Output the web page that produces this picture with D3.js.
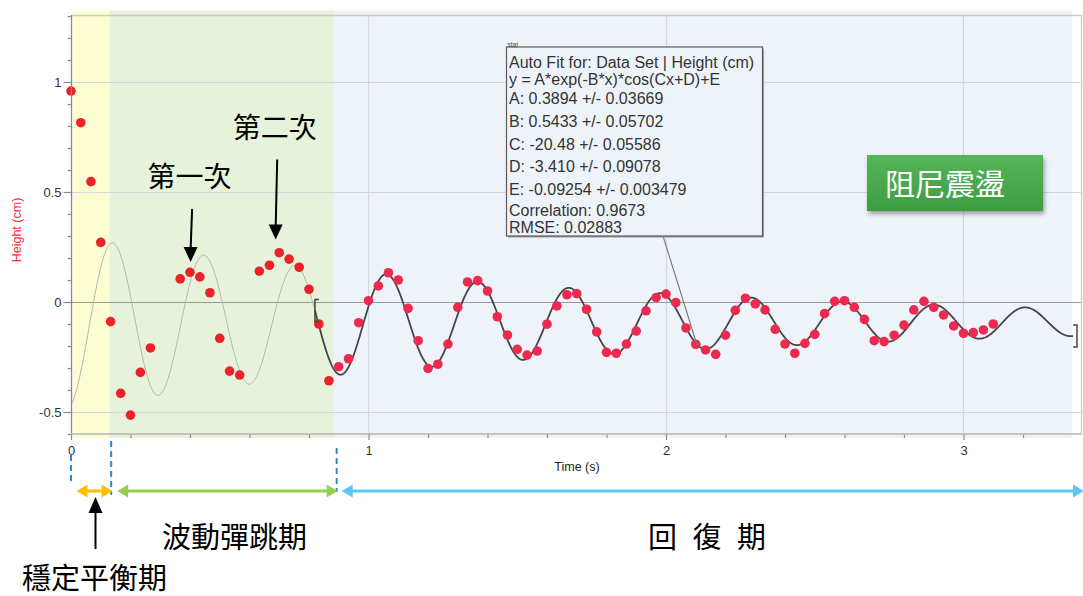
<!DOCTYPE html>
<html>
<head>
<meta charset="utf-8">
<script src="https://cdn.jsdelivr.net/npm/d3@7"></script>
<style>
  body { margin: 0; background: #fff; }
  svg { display: block; }
  .tick text { font-family: "Liberation Sans", Arial, sans-serif; }
</style>
</head>
<body>
<svg id="chart" width="1083" height="596"></svg>
<script>
// Video-tracked ball height over time (30 fps, a few frames lost early on)
const times = [
  0.000, 0.033, 0.067, 0.100, 0.133, 0.167, 0.200, 0.233, 0.267,
  0.367, 0.400, 0.433, 0.467, 0.500, 0.533, 0.567,
  0.633, 0.667, 0.700, 0.733, 0.767, 0.800, 0.833, 0.867, 0.900, 0.933, 0.967,
  1.000, 1.033, 1.067, 1.100, 1.133, 1.167, 1.200, 1.233, 1.267, 1.300, 1.333, 1.367,
  1.400, 1.433, 1.467, 1.500, 1.533, 1.567, 1.600, 1.633, 1.667, 1.700, 1.733, 1.767,
  1.800, 1.833, 1.867, 1.900, 1.933, 1.967, 2.000, 2.033, 2.067, 2.100, 2.133, 2.167,
  2.200, 2.233, 2.267, 2.300, 2.333, 2.367, 2.400, 2.433, 2.467, 2.500, 2.533, 2.567,
  2.600, 2.633, 2.667, 2.700, 2.733, 2.767, 2.800, 2.833, 2.867, 2.900, 2.933, 2.967,
  3.000, 3.033, 3.067, 3.100
];
const heights = [
  0.959, 0.815, 0.547, 0.271, -0.089, -0.415, -0.514, -0.320, -0.209,
  0.105, 0.135, 0.114, 0.042, -0.165, -0.314, -0.332,
  0.140, 0.167, 0.224, 0.195, 0.158, 0.058, -0.100, -0.358, -0.294, -0.258, -0.094,
  0.006, 0.073, 0.133, 0.100, -0.029, -0.176, -0.302, -0.283, -0.191, -0.024, 0.091, 0.097,
  0.050, -0.067, -0.150, -0.215, -0.241, -0.223, -0.101, -0.018, 0.033, 0.038, -0.033, -0.136,
  -0.229, -0.233, -0.191, -0.132, -0.040, 0.020, 0.036, -0.003, -0.118, -0.192, -0.218, -0.238,
  -0.151, -0.038, 0.017, -0.009, -0.036, -0.124, -0.191, -0.233, -0.188, -0.147, -0.053, 0.003,
  0.006, -0.024, -0.079, -0.176, -0.180, -0.151, -0.105, -0.036, 0.003, -0.024, -0.059, -0.109,
  -0.142, -0.139, -0.127, -0.100
];

// Axis ticks
const xMajorTicks = [0, 1, 2, 3];
const xMinorTicks = [0.2, 0.4, 0.6, 0.8, 1.2, 1.4, 1.6, 1.8, 2.2, 2.4, 2.6, 2.8, 3.2];
const yMajorTicks = [-0.5, 0, 0.5, 1];
const yMinorTicks = [-0.6, -0.4, -0.3, -0.2, -0.1, 0.1, 0.2, 0.3, 0.4, 0.6, 0.7, 0.8, 0.9, 1.1, 1.2, 1.3];
const xAxisTitle = "Time (s)";
const yAxisTitle = "Height (cm)";

// Damped-cosine fit: y = A*exp(-B*x)*cos(Cx+D)+E
const fitNames = ["A", "B", "C", "D", "E"];
const fitValueText = ["0.3894", "0.5433", "-20.48", "-3.410", "-0.09254"];
const fitErrorText = ["0.03669", "0.05702", "0.05586", "0.09078", "0.003479"];
const fitRange = [0.82, 3.368];
const fitCorrelation = "0.9673";
const fitRmse = "0.02883";

// Motion phases
const shadeStarts = [0.005, 0.129, 0.884];
const shadeEnds = [0.129, 0.884, 3.365];
const phaseBounds = [0, 0.135, 0.893, 3.41];
const phaseNames = ["穩定平衡期", "波動彈跳期", "回 復 期"];

// Called-out bounces
const bounceNames = ["第一次", "第二次"];
const bounceTimes = [0.402, 0.688];
const bounceHeights = [0.182, 0.284];

const title = "阻尼震盪";

// ---------------------------------------------------------------
const svg = d3.select("#chart");
const W = 1083;
const x = d3.scaleLinear().domain([0, 3.3916]).range([71, 1080]);
const y = d3.scaleLinear().domain([-0.6, 1.3]).range([434, 16]);
const latin = '"Liberation Sans", Arial, sans-serif';
const cjk = '"Noto Sans CJK TC", "Noto Sans CJK SC", sans-serif';

const defs = svg.append("defs");
const sh = defs.append("filter").attr("id", "shadow")
  .attr("x", "-10%").attr("y", "-20%").attr("width", "130%").attr("height", "160%");
sh.append("feDropShadow").attr("dx", 1.5).attr("dy", 3).attr("stdDeviation", 2)
  .attr("flood-color", "#000").attr("flood-opacity", 0.35);
const gg = defs.append("linearGradient").attr("id", "greenFill")
  .attr("x1", 0).attr("y1", 0).attr("x2", 0).attr("y2", 1);
gg.append("stop").attr("offset", "0%").attr("stop-color", "#55b559");
gg.append("stop").attr("offset", "100%").attr("stop-color", "#3e9d42");

// Phase shading
const shadeColors = ["#fdfdd2", "#e6f2d9", "#eef3fa"];
svg.append("g").selectAll("rect").data(shadeStarts).join("rect")
  .attr("x", (d) => x(d))
  .attr("width", (d, i) => x(shadeEnds[i]) - x(d))
  .attr("y", 10.5).attr("height", 438 - 10.5)
  .attr("fill", (d, i) => shadeColors[i]);

// Grid
const grid = svg.append("g");
grid.selectAll(".hg").data(yMajorTicks.filter(v => v !== 0)).join("line")
  .attr("x1", 71).attr("x2", 1081)
  .attr("y1", d => y(d) + 0.5).attr("y2", d => y(d) + 0.5)
  .attr("stroke", "#d3d7dd").attr("stroke-width", 1.2);
grid.selectAll(".vg").data(xMajorTicks.filter(v => v !== 0)).join("line")
  .attr("x1", d => Math.round(x(d)) + 0.5).attr("x2", d => Math.round(x(d)) + 0.5)
  .attr("y1", 15).attr("y2", 434)
  .attr("stroke", "#d3d7dd").attr("stroke-width", 1.2);
grid.append("line").attr("x1", 71).attr("x2", 1081)
  .attr("y1", y(0) + 0.5).attr("y2", y(0) + 0.5)
  .attr("stroke", "#9a9a9a").attr("stroke-width", 1.2);
// Plot frame (top and right)
grid.append("path").attr("d", `M71,15.5H1081.5V434`)
  .attr("fill", "none").attr("stroke", "#c9c9c9").attr("stroke-width", 1.3);

// Fit curve
const [A, B, C, D, E] = fitValueText.map(Number);
const fit = t => A * Math.exp(-B * t) * Math.cos(C * t + D) + E;
const line = d3.line().x(t => x(t)).y(t => y(fit(t)));
const step = 0.002;
const before = d3.range(0, fitRange[0] + step / 2, step);
const inside = d3.range(fitRange[0], fitRange[1] + step / 2, step);
svg.append("path").attr("d", line(before))
  .attr("fill", "none").attr("stroke", "#b3b6b3").attr("stroke-width", 1);
svg.append("path").attr("d", line(inside))
  .attr("fill", "none").attr("stroke", "#454545").attr("stroke-width", 1.8);

// Data points
svg.append("g").selectAll("circle").data(times).join("circle")
  .attr("cx", d => x(d))
  .attr("cy", (d, i) => y(heights[i]))
  .attr("r", 4.8)
  .attr("fill", d => d < shadeEnds[1] ? "#ec2229" : "#ec2a4f");

// Fit-range brackets
const bracket = (t, dir) => {
  const bx = x(t) + (dir < 0 ? 0 : 4), by = y(fit(t));
  return `M${bx - 4 * dir},${by - 11}H${bx}V${by + 11}H${bx - 4 * dir}`;
};
svg.append("path").attr("d", bracket(fitRange[0], -1) + bracket(fitRange[1], 1))
  .attr("fill", "none").attr("stroke", "#444").attr("stroke-width", 1.5);

// Axes (plain hyphen-minus in tick labels)
const plain = d => String(d);
const axisG = svg.append("g");
axisG.append("g").attr("transform", "translate(71.5,0)")
  .call(d3.axisLeft(y).tickValues(yMajorTicks).tickSize(8).tickPadding(2).tickFormat(plain));
axisG.append("g").attr("transform", "translate(71.5,0)")
  .call(d3.axisLeft(y).tickValues(yMinorTicks).tickSize(4).tickFormat(""));
axisG.append("g").attr("transform", "translate(0,434)")
  .call(d3.axisBottom(x).tickValues(xMajorTicks).tickSize(6).tickPadding(6).tickFormat(plain));
axisG.append("g").attr("transform", "translate(0,434)")
  .call(d3.axisBottom(x).tickValues(xMinorTicks).tickSize(4).tickFormat(""));
axisG.selectAll(".domain").remove();
axisG.selectAll(".tick line").attr("stroke", "#8a8a8a").attr("stroke-width", 1.2);
axisG.selectAll(".tick text").attr("font-size", 13).attr("fill", "#333");
axisG.append("line").attr("x1", 71.5).attr("x2", 71.5).attr("y1", 15).attr("y2", 434)
  .attr("stroke", "#8a8a8a").attr("stroke-width", 1.3);
axisG.append("line").attr("x1", 71).attr("x2", 1082).attr("y1", 434).attr("y2", 434)
  .attr("stroke", "#b5b5b5").attr("stroke-width", 1.3);

svg.append("text").attr("x", 577).attr("y", 471).attr("text-anchor", "middle")
  .attr("font-family", latin).attr("font-size", 12.5).attr("fill", "#222")
  .text(xAxisTitle);
svg.append("text")
  .attr("transform", "translate(21,230) rotate(-90)")
  .attr("text-anchor", "middle").attr("font-family", latin).attr("font-size", 12.5)
  .attr("fill", "#ff2a3a").text(yAxisTitle);

// Fit summary box with leader line
const box = { x: 506.5, y: 47, w: 256, h: 189 };
svg.append("line").attr("x1", 663).attr("y1", box.y + box.h).attr("x2", 697).attr("y2", 345)
  .attr("stroke", "#777").attr("stroke-width", 1.1);
svg.append("rect").attr("x", box.x + 1.5).attr("y", box.y + 1.5)
  .attr("width", box.w).attr("height", box.h).attr("fill", "#9a9a9a");
svg.append("rect").attr("x", box.x).attr("y", box.y).attr("width", box.w).attr("height", box.h)
  .attr("fill", "#eef3fa").attr("stroke", "#5a5a5a").attr("stroke-width", 1.2);
svg.append("text").attr("x", box.x + 1).attr("y", box.y - 0.5)
  .attr("font-family", latin).attr("font-size", 6.5).attr("fill", "#444").text("stat");
const boxLines = [
  "Auto Fit for: Data Set | " + yAxisTitle,
  "y = A*exp(-B*x)*cos(Cx+D)+E",
  ...fitNames.map((n, i) => `${n}: ${fitValueText[i]} +/- ${fitErrorText[i]}`),
  "Correlation: " + fitCorrelation,
  "RMSE: " + fitRmse
];
const boxBaselines = [68.3, 85, 104, 126.7, 150, 172.3, 195.3, 216, 232.7];
svg.append("g").selectAll("text").data(boxLines).join("text")
  .attr("x", box.x + 2.5).attr("y", (d, i) => boxBaselines[i])
  .attr("font-family", latin).attr("font-size", 16).attr("fill", "#333")
  .text(d => d);

// Title badge
svg.append("rect").attr("x", 867).attr("y", 155).attr("width", 176).attr("height", 56)
  .attr("fill", "url(#greenFill)").attr("filter", "url(#shadow)");
svg.append("text").attr("x", 885).attr("y", 194.5)
  .attr("font-family", cjk).attr("font-size", 30).attr("fill", "#fff").text(title);

// Bounce call-outs
const arrowDown = (x0, y0, x1, y1) => {
  const g = svg.append("g");
  g.append("line").attr("x1", x0).attr("y1", y0).attr("x2", x1).attr("y2", y1 - 12)
    .attr("stroke", "#000").attr("stroke-width", 2);
  g.append("path").attr("d", `M${x1},${y1}L${x1 - 7},${y1 - 15}L${x1 + 7},${y1 - 15}Z`)
    .attr("fill", "#000");
};
bounceNames.forEach((name, i) => {
  const tx = x(bounceTimes[i]), ty = y(bounceHeights[i]);
  const gap = i === 0 ? 53 : 80;
  arrowDown(tx + 1.5, ty - gap, tx, ty);
  svg.append("text").attr("x", tx - 1).attr("y", ty - gap - 21.5)
    .attr("text-anchor", "middle").attr("font-family", cjk).attr("font-size", 28)
    .attr("fill", "#000").text(name);
});

// Phase brackets under the time axis
const phaseColors = ["#ffc000", "#92d050", "#5bc8ef"];
const dashTops = [455, 441, 448];
const dashBottoms = [485, 495, 492];
phaseBounds.slice(0, 3).forEach((t, i) => {
  svg.append("line").attr("x1", x(t)).attr("x2", x(t))
    .attr("y1", dashTops[i]).attr("y2", dashBottoms[i])
    .attr("stroke", "#2f88d4").attr("stroke-width", 2).attr("stroke-dasharray", "6,4");
});
const ay = 491;
const doubleArrow = (x0, x1, color) => {
  const g = svg.append("g");
  const hl = 11, hw = 6.5;
  g.append("line").attr("x1", x0 + hl - 1).attr("x2", x1 - hl + 1).attr("y1", ay).attr("y2", ay)
    .attr("stroke", color).attr("stroke-width", 3.2);
  g.append("path")
    .attr("d", `M${x0},${ay}L${x0 + hl},${ay - hw}L${x0 + hl},${ay + hw}Z` +
               `M${x1},${ay}L${x1 - hl},${ay - hw}L${x1 - hl},${ay + hw}Z`)
    .attr("fill", color);
};
doubleArrow(x(phaseBounds[0]) + 5.5, x(phaseBounds[1]) + 1.5, phaseColors[0]);
doubleArrow(x(phaseBounds[1]) + 6, x(phaseBounds[2]) + 1, phaseColors[1]);
doubleArrow(x(phaseBounds[2]) + 5, W + 1, phaseColors[2]);

// Phase labels
const px0 = x(phaseBounds[0]) + 24.5;
svg.append("line").attr("x1", px0).attr("x2", px0).attr("y1", 549).attr("y2", 510)
  .attr("stroke", "#000").attr("stroke-width", 2);
svg.append("path").attr("d", `M${px0},497L${px0 - 7},513L${px0 + 7},513Z`).attr("fill", "#000");
svg.append("text").attr("x", 94.5).attr("y", 589)
  .attr("text-anchor", "middle").attr("font-family", cjk).attr("font-size", 29)
  .attr("fill", "#000").text(phaseNames[0]);
svg.append("text").attr("x", 234.5).attr("y", 548)
  .attr("text-anchor", "middle").attr("font-family", cjk).attr("font-size", 29)
  .attr("fill", "#000").text(phaseNames[1]);
svg.append("text").attr("x", 648).attr("y", 548)
  .attr("textLength", 118).attr("lengthAdjust", "spacing")
  .attr("font-family", cjk).attr("font-size", 29)
  .attr("fill", "#000").text(phaseNames[2]);
</script>
</body>
</html>
